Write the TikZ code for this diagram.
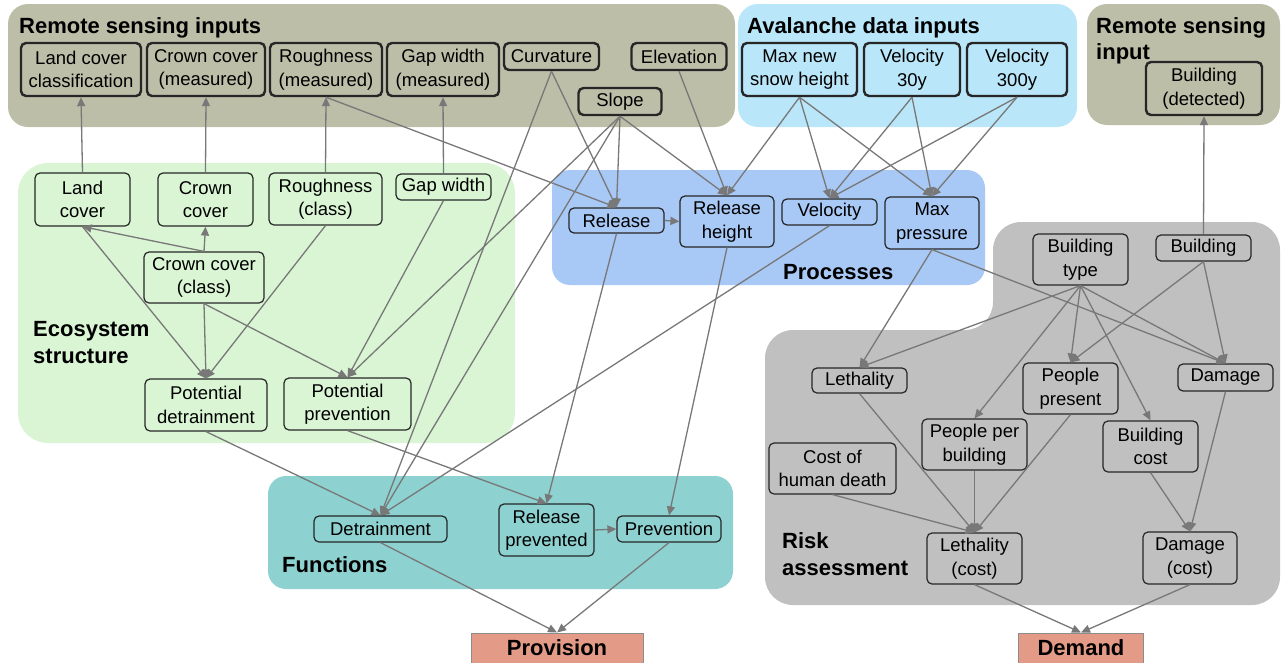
\documentclass[tikz,border=0pt]{standalone}
\usepackage{fontspec}
\setmainfont{Liberation Sans}
\usetikzlibrary{arrows.meta}
\definecolor{rsbg}{RGB}{188,190,168}
\definecolor{avbg}{RGB}{185,230,248}
\definecolor{ecobg}{RGB}{218,245,212}
\definecolor{procbg}{RGB}{168,200,245}
\definecolor{funbg}{RGB}{141,209,208}
\definecolor{riskbg}{RGB}{192,192,192}
\definecolor{outbg}{RGB}{227,155,135}
\definecolor{arrowgray}{RGB}{120,120,120}
\begin{document}
\begin{tikzpicture}[x=1pt,y=-1pt,
  box/.style={draw=black!85, line width=1.2pt, rounded corners=5pt, align=center, inner sep=0pt,
    font=\fontsize{18.5}{23.5}\selectfont},
  inbox/.style={box, line width=2.4pt},
  ttl/.style={font=\fontsize{22}{26.5}\selectfont\bfseries, align=left, inner sep=0pt, anchor=base west},
  outbox/.style={draw=black!45, line width=1pt, fill=outbg, inner sep=0pt},
  edge/.style={draw=arrowgray, line width=1.3pt, -{Triangle[length=9pt,width=8pt]}}]
\useasboundingbox (0,0) rectangle (1283,662);
% backgrounds
\fill[rsbg, rounded corners=20pt] (8,4) rectangle (735,127);
\fill[avbg, rounded corners=20pt] (738,4) rectangle (1077,127);
\fill[rsbg, rounded corners=20pt] (1087,4) rectangle (1280,125);
\fill[ecobg, rounded corners=30pt] (18,163) rectangle (515,443);
\fill[procbg, rounded corners=18pt] (552,170) rectangle (985,285);
\fill[funbg, rounded corners=18pt] (268,476) rectangle (733,589);
\fill[riskbg, rounded corners=28pt] (993,222) -- (1280,222) -- (1280,605) -- (765,605) -- (765,330) -- (993,330) -- cycle;
% titles (base = baseline of last line)
\node[ttl] (t1) at (19,33) {Remote sensing inputs};
\node[ttl] (t2) at (747,33) {Avalanche data inputs};
\node[ttl] (t3) at (1096,59.5) {Remote sensing\\input};
\node[ttl] (t4) at (33,363) {Ecosystem\\structure};
\node[ttl] (t5) at (783,279) {Processes};
\node[ttl] (t6) at (282,572) {Functions};
\node[ttl] (t7) at (782,575) {Risk\\assessment};
% remote sensing inputs
\node[inbox, minimum width=120pt, minimum height=53pt] (lcc) at (81,69.5) {Land cover\\classification};
\node[inbox, minimum width=118pt, minimum height=53pt] (ccm) at (206,69.5) {Crown cover\\(measured)};
\node[inbox, minimum width=112pt, minimum height=53pt] (rm) at (326,69.5) {Roughness\\(measured)};
\node[inbox, minimum width=112pt, minimum height=53pt] (gwm) at (443,69.5) {Gap width\\(measured)};
\node[inbox, minimum width=95pt, minimum height=27pt] (curv) at (551.5,56.5) {Curvature};
\node[inbox, minimum width=95pt, minimum height=27pt] (elev) at (679,56.5) {Elevation};
\node[inbox, minimum width=83pt, minimum height=27pt] (slope) at (620,101.5) {Slope};
% avalanche inputs
\node[inbox, minimum width=115pt, minimum height=53pt] (mns) at (799.5,69.5) {Max new\\snow height};
\node[inbox, minimum width=96pt, minimum height=53pt] (v30) at (912,69.5) {Velocity\\30y};
\node[inbox, minimum width=100pt, minimum height=53pt] (v300) at (1017,69.5) {Velocity\\300y};
% remote sensing input
\node[inbox, minimum width=116pt, minimum height=53pt] (bd) at (1204,88.5) {Building\\(detected)};
% ecosystem structure
\node[box, minimum width=95pt, minimum height=53pt] (lc) at (82.5,199.5) {Land\\cover};
\node[box, minimum width=95pt, minimum height=53pt] (cc) at (205.5,199.5) {Crown\\cover};
\node[box, minimum width=113pt, minimum height=52pt] (rc) at (325.5,199) {Roughness\\(class)};
\node[box, minimum width=95pt, minimum height=26pt] (gw) at (443.5,187) {Gap width};
\node[box, minimum width=120pt, minimum height=51pt] (ccc) at (204,277.5) {Crown cover\\(class)};
\node[box, minimum width=122pt, minimum height=52pt] (pd) at (206,405) {Potential\\detrainment};
\node[box, minimum width=127pt, minimum height=52pt] (pp) at (347.5,404) {Potential\\prevention};
% processes
\node[box, minimum width=95pt, minimum height=25pt] (rel) at (616.5,220.5) {Release};
\node[box, minimum width=94pt, minimum height=51pt] (rh) at (727,221.5) {Release\\height};
\node[box, minimum width=95pt, minimum height=26pt] (vel) at (829.5,212) {Velocity};
\node[box, minimum width=94pt, minimum height=52pt] (mp) at (932,223) {Max\\pressure};
% risk
\node[box, minimum width=95pt, minimum height=51pt] (bt) at (1080.5,259.5) {Building\\type};
\node[box, minimum width=95pt, minimum height=26pt] (bld) at (1203.5,248) {Building};
\node[box, minimum width=95pt, minimum height=25pt] (leth) at (859.5,380.5) {Lethality};
\node[box, minimum width=95pt, minimum height=51pt] (ppres) at (1070.5,388.5) {People\\present};
\node[box, minimum width=95pt, minimum height=27pt] (dmg) at (1225.5,377.5) {Damage};
\node[box, minimum width=105pt, minimum height=51pt] (ppb) at (974.5,444.5) {People per\\building};
\node[box, minimum width=95pt, minimum height=51pt] (bc) at (1150.5,446.5) {Building\\cost};
\node[box, minimum width=127pt, minimum height=51pt] (chd) at (832.5,468.5) {Cost of\\human death};
\node[box, minimum width=95pt, minimum height=51pt] (lcost) at (974.5,558.5) {Lethality\\(cost)};
\node[box, minimum width=94pt, minimum height=52pt] (dcost) at (1190,558) {Damage\\(cost)};
% functions
\node[box, minimum width=133pt, minimum height=26pt] (det) at (380.5,529) {Detrainment};
\node[box, minimum width=95pt, minimum height=52pt] (rp) at (546.5,530) {Release\\prevented};
\node[box, minimum width=104pt, minimum height=26pt] (prev) at (669,529) {Prevention};
% outputs
\node[outbox, minimum width=172pt, minimum height=40pt] (prov) at (557,653) {};
\node[font=\fontsize{22}{26}\selectfont\bfseries, inner sep=0pt, anchor=base] (provt) at (557,655) {Provision};
\node[outbox, minimum width=125pt, minimum height=40pt] (dem) at (1081,653) {};
\node[font=\fontsize{22}{26}\selectfont\bfseries, inner sep=0pt, anchor=base] (demt) at (1081,655) {Demand};
% edges: upward
\draw[edge] (lc.north) -- (lcc.south);
\draw[edge] (cc.north) -- (ccm.south);
\draw[edge] (rc.north) -- (rm.south);
\draw[edge] (gw.north) -- (gwm.south);
\draw[edge] (bld.north) -- (bd.south);
\draw[edge] (ccc.north) -- (cc.south);
\draw[edge] (ccc.north) -- (lc.south);
% ecosystem
\draw[edge] (lc.south) -- (pd.north);
\draw[edge] (ccc.south) -- (pd.north);
\draw[edge] (rc.south) -- (pd.north);
\draw[edge] (ccc.south) -- (pp.north);
\draw[edge] (gw.south) -- (pp.north);
\draw[edge] (slope.south) -- (pp.north);
% inputs to processes
\draw[edge] (rm.south) -- (rel.north);
\draw[edge] (curv.south) -- (rel.north);
\draw[edge] (slope.south) -- (rel.north);
\draw[edge] (slope.south) -- (rh.north);
\draw[edge] (elev.south) -- (rh.north);
\draw[edge] (mns.south) -- (rh.north);
\draw[edge] (mns.south) -- (vel.north);
\draw[edge] (mns.south) -- (mp.north);
\draw[edge] (v30.south) -- (vel.north);
\draw[edge] (v30.south) -- (mp.north);
\draw[edge] (v300.south) -- (vel.north);
\draw[edge] (v300.south) -- (mp.north);
\draw[edge] (rel.east) -- (rh.west);
% to functions
\draw[edge] (curv.south) -- (det.north);
\draw[edge] (slope.south) -- (det.north);
\draw[edge] (vel.south) -- (det.north);
\draw[edge] (pd.south) -- (det.north);
\draw[edge] (pp.south) -- (rp.north);
\draw[edge] (rel.south) -- (rp.north);
\draw[edge] (rh.south) -- (prev.north);
\draw[edge] (rp.east) -- (prev.west);
\draw[edge] (det.south) -- (prov.north);
\draw[edge] (prev.south) -- (prov.north);
% risk
\draw[edge] (mp.south) -- (leth.north);
\draw[edge] (mp.south) -- (dmg.north);
\draw[edge] (bt.south) -- (leth.north);
\draw[edge] (bt.south) -- (ppb.north);
\draw[edge] (bt.south) -- (ppres.north);
\draw[edge] (bt.south) -- (bc.north);
\draw[edge] (bt.south) -- (dmg.north);
\draw[edge] (bld.south) -- (ppres.north);
\draw[edge] (bld.south) -- (dmg.north);
\draw[edge] (leth.south) -- (lcost.north);
\draw[edge] (ppb.south) -- (lcost.north);
\draw[edge] (ppres.south) -- (lcost.north);
\draw[edge] (chd.south) -- (lcost.north);
\draw[edge] (bc.south) -- (dcost.north);
\draw[edge] (dmg.south) -- (dcost.north);
\draw[edge] (lcost.south) -- (dem.north);
\draw[edge] (dcost.south) -- (dem.north);
\end{tikzpicture}
\end{document}
